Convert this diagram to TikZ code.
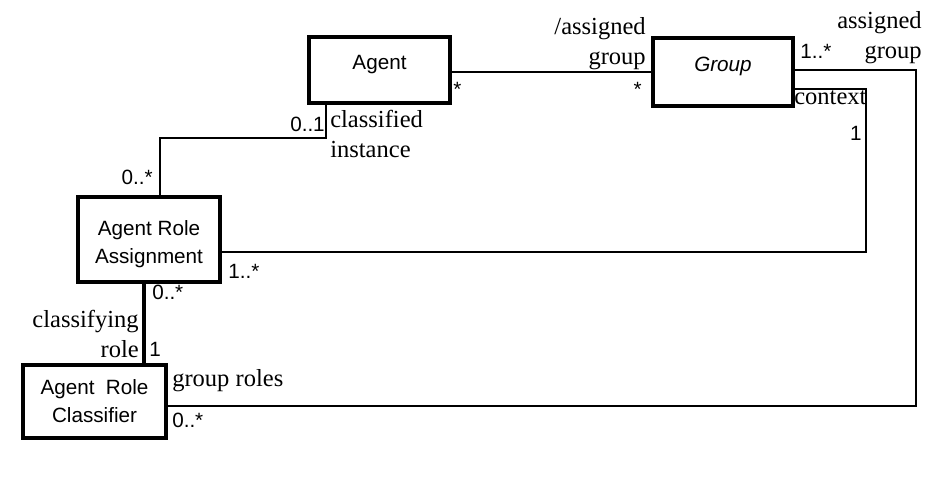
\documentclass[tikz,border=0pt]{standalone}
\usepackage{fontspec}
\setmainfont{Liberation Serif}
\setsansfont{Liberation Sans}
\begin{document}
\begin{tikzpicture}
      [x=0.75pt, y=-0.75pt,
       classbox/.style={draw, line width=2.5pt, rectangle, inner sep=0pt, align=center,
         font=\fontsize{15.5}{21}\selectfont\sffamily},
       assoc/.style={line width=1.5pt},
       mult/.style={inner sep=0pt, font=\fontsize{15.5}{19}\selectfont\sffamily},
       rolename/.style={inner sep=0pt, font=\fontsize{18.4}{22.5}\selectfont}]
      \useasboundingbox (0, 0) rectangle (943, 491);

      % classes
      \node[classbox, minimum width=105.75pt, minimum height=49.5pt,
            text height=10pt, text depth=10pt] (agent) at (379.5, 70) {Agent};
      \node[classbox, minimum width=105pt, minimum height=51pt,
            text height=10pt, text depth=10pt] (group) at (723, 72) {\itshape Group};
      \node[classbox, minimum width=106.5pt, minimum height=63.75pt,
            text height=40pt, text depth=3.3pt] (ara) at (149, 239.5)
            {Agent Role\\Assignment};
      \node[classbox, minimum width=107.25pt, minimum height=54.75pt,
            text height=35.5pt, text depth=3.3pt] (arc) at (94.5, 401.5)
            {Agent~ Role\\Classifier};

      % agent -- group
      \draw[assoc] (agent.east |- group.west) -- (group.west);

      % assignment -- agent
      \coordinate (ciA) at (160, 138);
      \coordinate (ciB) at (326, 138);
      \draw[assoc] (ciA |- ara.north) -- (ciA) -- (ciB) -- (ciB |- agent.south);

      % assignment -- group (context)
      \coordinate (ctxA) at (866, 252);
      \coordinate (ctxB) at (866, 89);
      \draw[assoc] (ara.east |- ctxA) -- (ctxA) -- (ctxB) -- (ctxB -| group.east);

      % classifier -- group
      \coordinate (grA) at (916, 70);
      \coordinate (grB) at (916, 406);
      \draw[assoc] (grA -| group.east) -- (grA) -- (grB) -- (grB -| arc.east);

      % assignment -- classifier
      \coordinate (crA) at (144, 320);
      \draw[assoc, line width=2.5pt] (crA |- ara.south) -- (crA |- arc.north);

      % role names (base = last line)
      \node[rolename, anchor=base east, align=right] (agAssigned) at (646, 65) {/assigned\\group};
      \node[rolename, anchor=base east, align=right] (grAssigned) at (922, 59) {assigned\\group};
      \node[rolename, anchor=base west] (grContext) at (794, 105) {context};
      \node[rolename, anchor=base west, align=left] (agClassified) at (330, 158) {classified\\instance};
      \node[rolename, anchor=base east, align=right] (arClassifying) at (139, 358) {classifying\\role};
      \node[rolename, anchor=base west] (grRoles) at (172, 387) {group roles};

      % multiplicities
      \node[mult, anchor=base west] (mAgent) at (453, 97) {*};
      \node[mult, anchor=base east] (mGroup) at (642, 97) {*};
      \node[mult, anchor=base west] (mGroupOut) at (800, 59) {1..*};
      \node[mult, anchor=base east] (mContext) at (862, 141) {1};
      \node[mult, anchor=base east] (mInstance) at (325, 132) {0..1};
      \node[mult, anchor=base east] (mAraTop) at (153, 185) {0..*};
      \node[mult, anchor=base west] (mAraRight) at (228, 279) {1..*};
      \node[mult, anchor=base west] (mAraBottom) at (152, 300) {0..*};
      \node[mult, anchor=base west] (mRole) at (149, 357) {1};
      \node[mult, anchor=base west] (mArc) at (172, 428) {0..*};
\end{tikzpicture}
\end{document}
